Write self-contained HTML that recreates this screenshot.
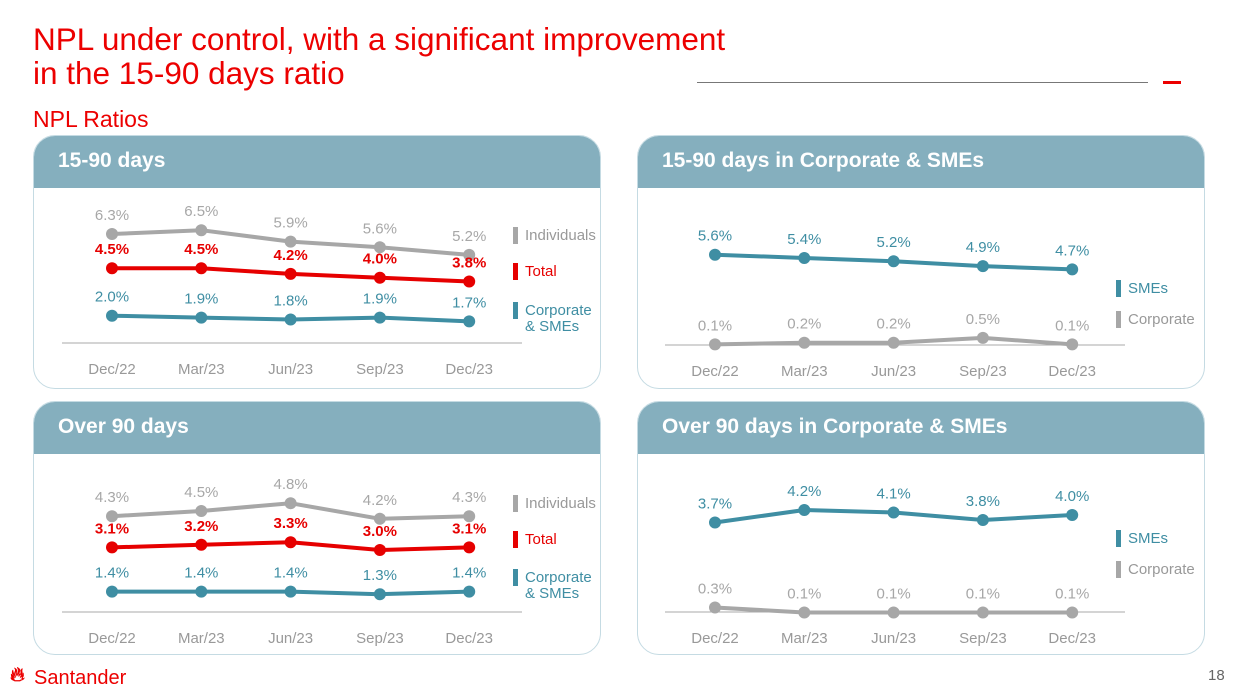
<!DOCTYPE html>
<html><head><meta charset="utf-8">
<style>
body{margin:0;width:1243px;height:698px;background:#fff;font-family:"Liberation Sans",sans-serif;position:relative;overflow:hidden}
.t{position:absolute;color:#ec0000}
.panel{position:absolute;width:568px;height:254px;border:1.5px solid #c5dbe3;border-radius:22px;overflow:hidden;box-sizing:border-box}
.hdr{position:absolute;left:0;top:0;right:0;height:52px;background:#85afbe;color:#fff;font-weight:bold;font-size:21px;padding:13px 0 0 24px;box-sizing:border-box}
svg{position:absolute;left:0;top:0}
</style></head><body>
<div class="t" style="left:33px;top:22px;font-size:31.5px;line-height:34px">NPL under control, with a significant improvement<br>in the 15-90 days ratio</div>
<div class="t" style="left:33px;top:106px;font-size:23px">NPL Ratios</div>
<div style="position:absolute;left:697px;top:82px;width:451px;height:1px;background:#777"></div>
<div style="position:absolute;left:1163px;top:81px;width:18px;height:3px;background:#ec0000"></div>
<div class="panel" style="left:33px;top:135px"><div class="hdr">15-90 days</div></div>
<div class="panel" style="left:637px;top:135px"><div class="hdr">15-90 days in Corporate &amp; SMEs</div></div>
<div class="panel" style="left:33px;top:401px"><div class="hdr">Over 90 days</div></div>
<div class="panel" style="left:637px;top:401px"><div class="hdr">Over 90 days in Corporate &amp; SMEs</div></div>
<div style="position:absolute;left:10px;top:664px;color:#ec0000;font-size:20px;font-weight:bold">&#x1F525;&#xFE0E;</div>
<div style="position:absolute;left:34px;top:667px;color:#ec0000;font-size:20px">Santander</div>
<div style="position:absolute;left:1208px;top:667px;color:#666;font-size:15px">18</div>
<svg id="c" width="1243" height="698"></svg>
<script>
const categories=["Dec/22","Mar/23","Jun/23","Sep/23","Dec/23"];
const p1Individuals=[6.3,6.5,5.9,5.6,5.2];
const p1Total=[4.5,4.5,4.2,4.0,3.8];
const p1Corporate=[2.0,1.9,1.8,1.9,1.7];
const p2SMEs=[5.6,5.4,5.2,4.9,4.7];
const p2Corporate=[0.1,0.2,0.2,0.5,0.1];
const p3Individuals=[4.3,4.5,4.8,4.2,4.3];
const p3Total=[3.1,3.2,3.3,3.0,3.1];
const p3Corporate=[1.4,1.4,1.4,1.3,1.4];
const p4SMEs=[3.7,4.2,4.1,3.8,4.0];
const p4Corporate=[0.3,0.1,0.1,0.1,0.1];
const GRAY="#a7a7a7",RED="#e60000",TEAL="#3f8ea3";
const svg=document.getElementById('c');const NS="http://www.w3.org/2000/svg";
function mk(t,a){const e=document.createElementNS(NS,t);for(const k in a)e.setAttribute(k,a[k]);svg.appendChild(e);return e;}
function panel(x0,axisY,base,k,series,legend,lx,ly){
  const x=i=>x0+i*89.3; const y=v=>base-k*v;
  const ax=mk('line',{x1:x0-50,x2:x0+410,y1:axisY,y2:axisY,stroke:'#aaa'});
  
  
  categories.forEach((c,i)=>{const t=mk('text',{x:x(i),y:axisY+31,'text-anchor':'middle','font-size':15,fill:'#999'});t.textContent=c;
    
    });
  series.forEach(s=>{
    const pts=s.d.map((v,i)=>x(i)+','+y(v)).join(' ');
    const l=mk('polyline',{points:pts,fill:'none',stroke:s.c,'stroke-width':4,'stroke-linejoin':'round'});
    
    
    s.d.forEach((v,i)=>{const p=mk('circle',{cx:x(i),cy:y(v),r:6,fill:s.c});
      
      
      const t=mk('text',{x:x(i),y:y(v)-14,'text-anchor':'middle','font-size':15,fill:s.c,'font-weight':s.c==RED?'bold':'normal'});
      t.textContent=v.toFixed(1)+'%';
      
      });
  });
  legend.forEach((g,j)=>{const yy=ly[j];
    const r=mk('rect',{x:lx,y:yy-13,width:5,height:17,fill:g.c});
    
    
    g.t.forEach((tx,m)=>{const t=mk('text',{x:lx+12,y:yy+m*16,'font-size':15,fill:g.c==GRAY?'#999':g.c});t.textContent=tx;
      
      });
  });
}
panel(112,343,353.7,19,[{d:p1Individuals,c:GRAY,n:'individuals'},{d:p1Total,c:RED,n:'total'},{d:p1Corporate,c:TEAL,n:'corporate-smes'}],
 [{c:GRAY,t:['Individuals']},{c:RED,t:['Total']},{c:TEAL,t:['Corporate','& SMEs']}],513,[240,276,315]);
panel(715,345,346,16.3,[{d:p2SMEs,c:TEAL,n:'smes'},{d:p2Corporate,c:GRAY,n:'corporate'}],
 [{c:TEAL,t:['SMEs']},{c:GRAY,t:['Corporate']}],1116,[293,324]);
panel(112,612,628,26,[{d:p3Individuals,c:GRAY,n:'individuals'},{d:p3Total,c:RED,n:'total'},{d:p3Corporate,c:TEAL,n:'corporate-smes'}],
 [{c:GRAY,t:['Individuals']},{c:RED,t:['Total']},{c:TEAL,t:['Corporate','& SMEs']}],513,[508,544,582]);
panel(715,612,615,25,[{d:p4SMEs,c:TEAL,n:'smes'},{d:p4Corporate,c:GRAY,n:'corporate'}],
 [{c:TEAL,t:['SMEs']},{c:GRAY,t:['Corporate']}],1116,[543,574]);
</script>
</body></html>
